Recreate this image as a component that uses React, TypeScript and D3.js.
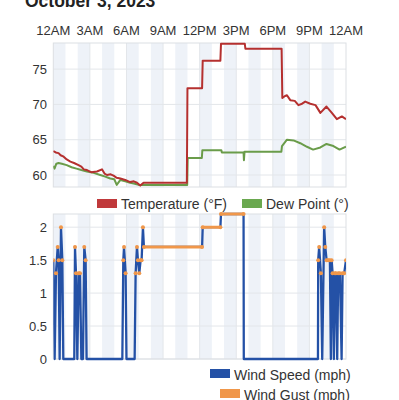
import React from 'react';
import * as d3 from 'd3';

// hour of day -> value
const temperature: [number, number][] = [
  [0, 63.4], [0.2, 63.2], [0.43, 63.1], [0.6, 62.8], [0.85, 62.6], [1.1, 62.2], [1.4, 61.9], [1.7, 61.7],
  [2.07, 61.4], [2.3, 61.2], [2.5, 60.8], [2.76, 60.7], [3.1, 60.4], [3.58, 60.5], [3.99, 60.8], [4.2, 60.2],
  [4.4, 60.0], [4.7, 60.1], [4.94, 59.9], [5.2, 59.6], [5.5, 59.5], [5.9, 59.3], [6.3, 59.0], [6.6, 59.1],
  [6.86, 58.9], [7.13, 58.5], [7.4, 58.9], [10.95, 58.9], [11.0, 72.3], [12.2, 72.3], [12.25, 76.2],
  [13.7, 76.2], [13.75, 78.6], [15.7, 78.6], [15.75, 77.9], [18.72, 77.9], [18.78, 70.9], [19.0, 71.2],
  [19.16, 71.3], [19.43, 70.6], [19.8, 70.5], [20.1, 69.9], [20.4, 70.1], [20.66, 70.4], [21.07, 70.1],
  [21.5, 69.9], [21.9, 68.8], [22.4, 69.7], [22.84, 68.8], [23.25, 67.9], [23.66, 68.3], [24, 67.9],
];

const dewPoint: [number, number][] = [
  [0, 61.3], [0.1, 60.9], [0.25, 61.6], [0.43, 61.7], [0.7, 61.6], [1.1, 61.4], [1.5, 61.1], [1.9, 60.9],
  [2.3, 60.7], [2.76, 60.5], [3.3, 60.3], [3.85, 60.0], [4.2, 59.8], [4.67, 59.5], [5.0, 59.4], [5.2, 58.6],
  [5.5, 59.3], [5.9, 59.1], [6.3, 58.9], [6.6, 58.8], [7.0, 58.6], [10.98, 58.6], [11.02, 62.4], [12.18, 62.4],
  [12.22, 63.5], [13.78, 63.5], [13.82, 63.2], [15.6, 63.2], [15.63, 62.1], [15.68, 63.3], [18.7, 63.3],
  [18.75, 64.1], [19.16, 65.0], [19.7, 64.9], [20.25, 64.5], [20.8, 64.0], [21.3, 63.6], [21.9, 63.9],
  [22.4, 64.4], [22.97, 64.1], [23.47, 63.6], [24, 64.0],
];

// hour, wind speed, wind gust
const wind: [number, number, number | null][] = [
  [0, 1.5, 1.5], [0.11, 0, null], [0.22, 1.3, 1.3], [0.36, 1.7, 1.7], [0.44, 1.5, 1.5], [0.52, 0, null],
  [0.63, 2.0, 2.0], [0.74, 1.5, 1.5], [0.82, 0, null], [1.72, 0, null], [1.78, 1.7, 1.7], [1.86, 1.3, 1.3],
  [1.97, 0, null], [2.08, 1.3, 1.3], [2.19, 1.3, 1.3], [2.3, 0, null], [2.43, 0, null], [2.54, 1.7, 1.7],
  [2.65, 1.5, 1.5], [2.73, 0, null], [5.66, 0, null], [5.74, 1.5, 1.5], [5.8, 1.7, 1.7], [5.93, 1.3, 1.3],
  [6.0, 0, null], [6.67, 0, null], [6.75, 1.3, 1.3], [6.86, 1.7, 1.7], [6.94, 1.5, 1.5], [7.05, 1.3, 1.3],
  [7.16, 1.5, 1.5], [7.24, 1.5, 1.5], [7.35, 2.0, 2.0], [7.43, 1.7, 1.7], [12.2, 1.7, 1.7], [12.25, 2.0, 2.0],
  [13.7, 2.0, 2.0], [13.75, 2.2, 2.2], [15.6, 2.2, 2.2], [15.62, 0, null], [21.7, 0, null], [21.72, 1.5, 1.5],
  [21.8, 1.7, 1.7], [21.94, 1.3, 1.3], [22.05, 0, null], [22.21, 2.0, 2.0], [22.3, 1.7, 1.7], [22.41, 1.5, 1.5],
  [22.54, 1.5, 1.5], [22.68, 1.5, 1.5], [22.76, 0, null], [22.82, 1.5, 1.5], [22.9, 1.3, 1.3], [23.01, 0, null],
  [23.09, 1.3, 1.3], [23.17, 1.3, 1.3], [23.28, 0, null], [23.36, 1.3, 1.3], [23.5, 1.3, 1.3], [23.64, 0, null],
  [23.72, 1.3, 1.3], [23.85, 1.3, 1.3], [24, 1.5, 1.5],
];

const hourTicks = [0, 3, 6, 9, 12, 15, 18, 21, 24];
const hourLabels = ['12AM', '3AM', '6AM', '9AM', '12PM', '3PM', '6PM', '9PM', '12AM'];
const tempTicks = [60, 65, 70, 75];
const windTicks = [0, 0.5, 1, 1.5, 2];
const shadedHours = [0, 2, 4, 6, 8, 10, 12, 14, 16, 18, 20, 22];

const FONT = '"Liberation Sans", Arial, Helvetica, sans-serif';
const TEXT = '#333';
const GRID = '#e3e6ea';
const BAND = '#eef2f8';
const ORANGE = '#f0974a';

const App: React.FC = () => {
  const x = d3.scaleLinear().domain([0, 24]).range([53.3, 346]);
  const yT = d3.scaleLinear().domain([58.3, 78.7]).range([187, 43]);
  const yW = d3.scaleLinear().domain([0, 2.2]).range([359, 214]);

  const p1 = { top: 43, bottom: 187 };
  const p2 = { top: 214, bottom: 359 };

  const lineT = d3.line<[number, number]>().x(d => x(d[0])).y(d => yT(d[1]));
  const lineSpeed = d3.line<[number, number, number | null]>().x(d => x(d[0])).y(d => yW(d[1]));

  // gust drawn as steady runs (consecutive equal readings) plus markers
  const gustRuns = d3.pairs(wind).filter(([a, b]) => a[2] !== null && a[2] === b[2]);

  const panelBg = (top: number, bottom: number) => (
    <g>
      {shadedHours.map(h => (
        <rect key={h} x={x(h)} y={top} width={x(h + 1) - x(h)} height={bottom - top} fill={BAND} />
      ))}
      {hourTicks.slice(1, -1).map(h => (
        <line key={h} x1={x(h)} x2={x(h)} y1={top} y2={bottom} stroke={GRID} strokeWidth={1} />
      ))}
    </g>
  );

  return (
    <div style={{ position: 'absolute', left: 0, top: 0 }}>
      <svg width={399} height={400} style={{ display: 'block', fontFamily: FONT }}>
        <defs>
          <clipPath id="clip1"><rect x={x(0)} y={p1.top - 2} width={x(24) - x(0)} height={p1.bottom - p1.top + 4} /></clipPath>
          <clipPath id="clip2"><rect x={x(0)} y={p2.top - 2} width={x(24) - x(0)} height={p2.bottom - p2.top + 4} /></clipPath>
        </defs>
        <rect width={399} height={400} fill="#fff" />
        <text x={25} y={7} fontSize={17.5} fontWeight="bold" fill="#222">October 3, 2023</text>

        {/* top axis labels */}
        {hourTicks.map((h, i) => (
          <text key={i} x={x(h)} y={35} fontSize={13} fill={TEXT} textAnchor="middle">{hourLabels[i]}</text>
        ))}

        {/* panel 1 */}
        {panelBg(p1.top, p1.bottom)}
        {tempTicks.map(t => (
          <g key={t}>
            <line x1={x(0)} x2={x(24)} y1={yT(t)} y2={yT(t)} stroke={GRID} />
            <text x={47} y={yT(t) + 4.5} fontSize={13} fill={TEXT} textAnchor="end">{t}</text>
          </g>
        ))}
        <rect x={x(0)} y={p1.top} width={x(24) - x(0)} height={p1.bottom - p1.top} fill="none" stroke="#dcdfe3" />
        <g clipPath="url(#clip1)">
          <path d={lineT(dewPoint) || ''} fill="none" stroke="#6a9c4a" strokeWidth={2} strokeLinejoin="round" />
          <path d={lineT(temperature) || ''} fill="none" stroke="#b5302f" strokeWidth={2} strokeLinejoin="round" />
        </g>

        {/* legend 1 */}
        <rect x={97} y={199} width={20} height={9} fill="#c0393b" />
        <text x={121} y={209} fontSize={14} fill={TEXT}>Temperature (°F)</text>
        <rect x={242} y={199} width={20} height={9} fill="#6aa84f" />
        <text x={266} y={209} fontSize={14} fill={TEXT}>Dew Point (°)</text>

        {/* panel 2 */}
        {panelBg(p2.top, p2.bottom)}
        {windTicks.map(t => (
          <g key={t}>
            <line x1={x(0)} x2={x(24)} y1={yW(t)} y2={yW(t)} stroke={GRID} />
            <text x={47} y={yW(t) + 4.5} fontSize={13} fill={TEXT} textAnchor="end">{t}</text>
          </g>
        ))}
        <rect x={x(0)} y={p2.top} width={x(24) - x(0)} height={p2.bottom - p2.top} fill="none" stroke="#dcdfe3" />
        <g clipPath="url(#clip2)">
          <path d={lineSpeed(wind) || ''} fill="none" stroke="#2451a6" strokeWidth={2.3} strokeLinejoin="round" />
          {gustRuns.map(([a, b], i) => (
            <line key={i} x1={x(a[0])} x2={x(b[0])} y1={yW(a[2] as number)} y2={yW(b[2] as number)}
              stroke={ORANGE} strokeWidth={3} />
          ))}
          {wind.filter(d => d[2] !== null).map((d, i) => (
            <circle key={i} cx={x(d[0])} cy={yW(d[2] as number)} r={2} fill={ORANGE} />
          ))}
        </g>

        {/* legend 2 */}
        <rect x={210} y={369} width={20} height={9} fill="#2451a6" />
        <text x={234} y={380} fontSize={14} fill={TEXT}>Wind Speed (mph)</text>
        <rect x={220} y={389} width={20} height={9} fill={ORANGE} />
        <text x={244} y={400} fontSize={14} fill={TEXT}>Wind Gust (mph)</text>
      </svg>
    </div>
  );
};

export default App;
